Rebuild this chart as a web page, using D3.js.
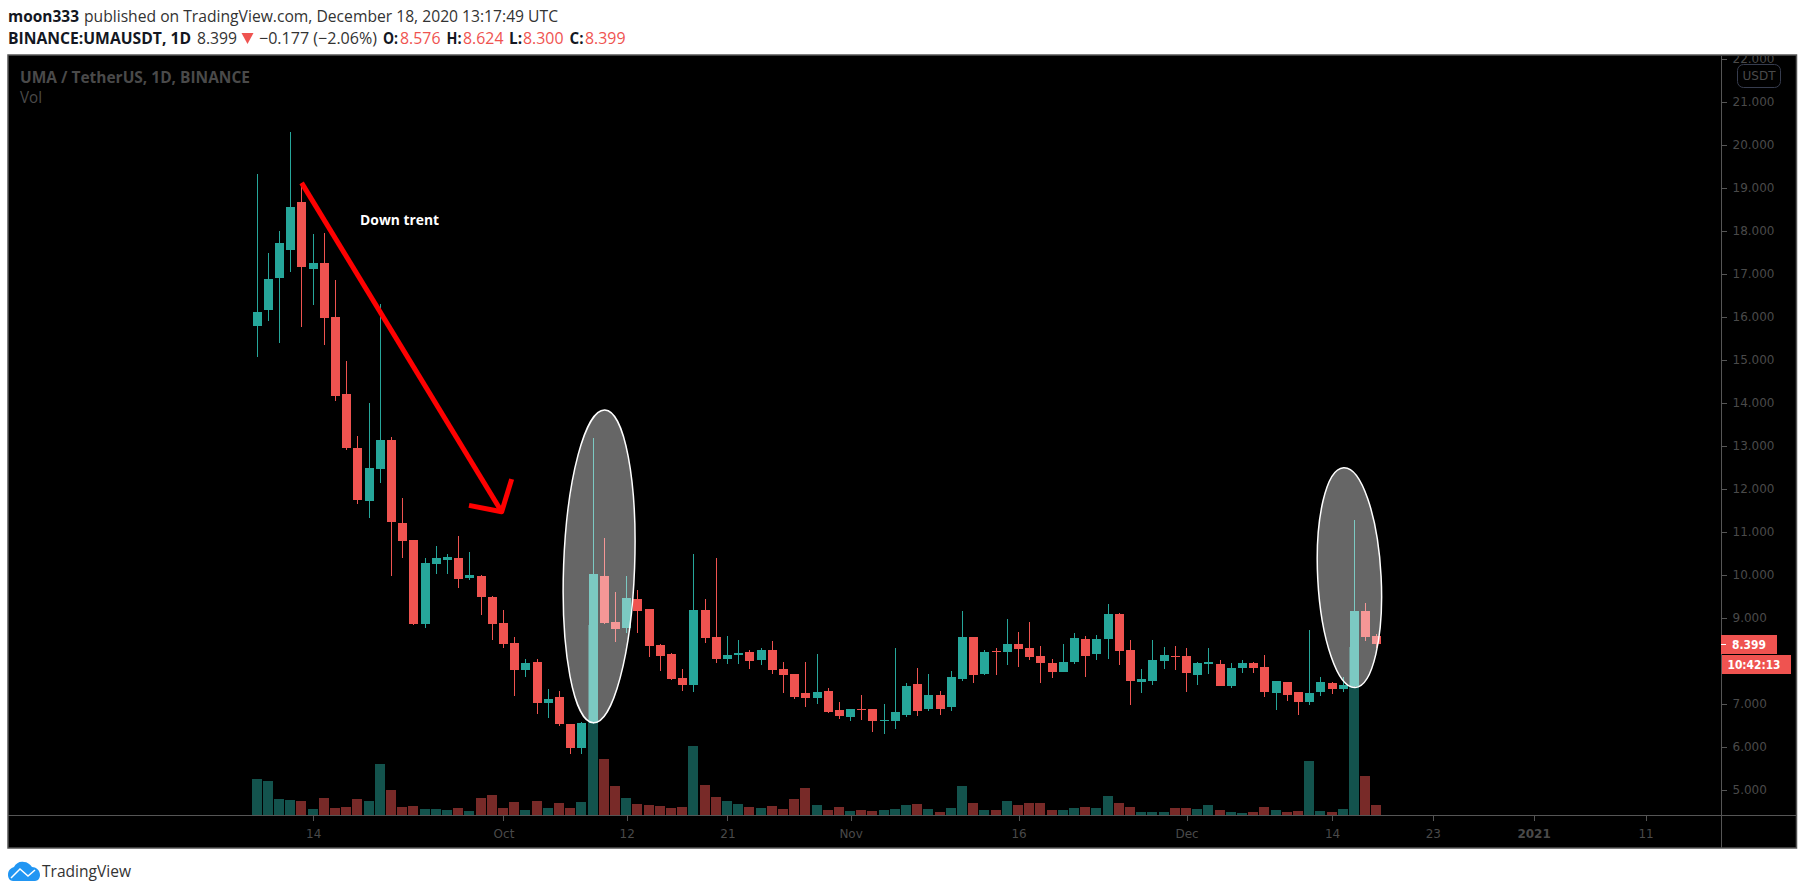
<!DOCTYPE html>
<html>
<head>
<meta charset="UTF-8">
<title>UMAUSDT 1D</title>
<script src="https://d3js.org/d3.v7.min.js"></script>
<style>
html, body { margin: 0; padding: 0; background: #fff; overflow: hidden; }
svg { display: block; }
</style>
</head>

<body>

<script type="text/javascript">

/* Daily candles, Sep 9 to Dec 18 2020 */
var opens = [
	15.79,16.16,16.91,17.56,18.67,17.12,17.26,16.00,14.21,12.95,
	11.72,12.47,13.14,11.21,10.81,8.86,10.26,10.35,10.40,9.93,
	9.98,9.49,8.88,8.42,7.79,7.98,7.02,7.16,6.53,5.98,
	6.56,9.98,8.91,8.77,9.44,9.21,8.37,8.16,7.60,7.44,
	9.19,8.56,8.05,8.14,8.21,8.02,8.26,7.81,7.70,7.26,
	7.14,7.30,6.86,6.70,6.88,6.88,6.60,6.60,6.74,7.47,
	6.88,7.21,6.93,7.58,8.56,7.70,8.23,8.21,8.40,8.30,
	8.12,7.95,7.74,7.98,8.51,8.16,8.51,9.09,8.26,7.51,
	7.53,8.00,8.12,8.12,7.67,7.93,7.93,7.42,7.84,7.95,
	7.86,7.26,7.51,7.28,7.05,7.28,7.49,7.35,7.42,9.16,8.576]
var highs = [
	19.33,17.48,18.00,20.30,19.12,17.93,17.95,16.86,14.98,13.23,
	14.00,16.30,13.21,11.79,10.81,10.40,10.67,10.49,10.91,10.53,
	10.00,9.51,9.19,8.56,8.05,8.05,7.35,7.30,6.53,6.58,
	13.19,10.86,9.60,9.98,9.65,9.21,8.40,8.19,7.81,10.49,
	9.44,10.40,8.58,8.49,8.26,8.30,8.47,7.98,7.70,7.98,
	8.16,7.37,7.05,6.88,7.21,6.88,7.00,8.30,7.49,7.84,
	7.70,7.30,7.77,9.16,8.56,8.26,8.30,8.98,8.67,8.91,
	8.35,8.05,8.40,8.65,8.58,8.60,9.33,9.12,8.49,7.81,
	8.49,8.33,8.35,8.30,7.98,8.30,8.02,7.95,8.02,7.98,
	8.14,7.53,7.51,7.28,8.72,7.63,7.51,7.63,11.28,9.35,8.624]
var lows = [
	15.08,15.91,15.40,17.05,15.77,16.28,15.35,14.05,12.91,11.65,
	11.33,12.14,9.98,10.40,8.84,8.77,10.02,10.02,9.70,9.88,
	9.07,8.49,8.30,7.19,7.63,6.77,6.67,6.49,5.84,5.84,
	6.53,8.86,8.44,8.65,8.65,8.09,7.77,7.56,7.30,7.28,
	8.42,7.95,7.93,7.93,7.81,7.91,7.70,7.26,7.12,6.93,
	7.00,6.79,6.65,6.60,6.63,6.35,6.30,6.42,6.70,6.72,
	6.84,6.74,6.84,7.53,7.49,7.67,7.67,7.91,7.86,8.02,
	7.49,7.60,7.74,7.93,7.63,8.02,8.05,7.91,6.98,7.26,
	7.44,7.81,7.79,7.28,7.44,7.70,7.42,7.37,7.72,7.72,
	7.16,6.86,7.07,6.74,6.98,7.19,7.23,7.28,7.40,8.47,8.300]
var closes = [
	16.12,16.88,17.72,18.56,17.16,17.26,15.98,14.16,12.95,11.74,
	12.49,13.14,11.23,10.79,8.86,10.28,10.40,10.42,9.91,10.00,
	9.49,8.86,8.40,7.79,7.95,7.02,7.12,6.53,5.98,6.56,
	10.02,8.88,8.74,9.47,9.16,8.35,8.12,7.58,7.44,9.19,
	8.53,8.05,8.14,8.19,8.00,8.26,7.79,7.67,7.16,7.14,
	7.28,6.81,6.72,6.88,6.86,6.60,6.63,6.81,7.42,6.84,
	7.21,6.88,7.63,8.56,7.67,8.21,8.21,8.40,8.28,8.09,
	7.95,7.74,7.98,8.53,8.12,8.51,9.09,8.23,7.53,7.58,
	8.02,8.14,8.09,7.72,7.95,7.98,7.42,7.84,7.95,7.84,
	7.28,7.53,7.21,7.05,7.26,7.51,7.35,7.44,9.16,8.56,8.399]
/* Volume has no scale in the picture, so these are relative units */
var volumes = [
	36,34,16,15,14,6,17,7,8,16,
	14,51,25,8,9,6,6,5,7,4,
	17,20,7,13,5,14,7,12,7,13,
	190,56,29,17,11,10,9,7,8,69,
	30,18,14,11,8,7,9,6,16,27,
	10,5,8,4,5,4,5,6,10,11,
	6,3,7,29,12,5,5,14,10,12,
	12,5,5,7,8,7,19,12,8,3,
	3,3,7,7,6,10,5,3,2,3,
	8,5,3,4,54,4,3,6,168,39,10]

/* Axis ticks. X ticks are candle numbers, counted from Sep 9. The 8.000 tick is under the price tags */
var price_ticks = [5,6,7,9,10,11,12,13,14,15,16,17,18,19,20,21,22]
var time_ticks = [5,22,33,42,53,68,83,96,105,114,124]
var time_labels = ['14','Oct','12','21','Nov','16','Dec','14','23','2021','11']

/* Drawings on the chart, in candle number and price */
var arrow_x = [3.97, 21.84]
var arrow_y = [19.12, 11.47]
var arrow_head_x = [18.92, 21.84, 22.73]
var arrow_head_y = [11.62, 11.47, 12.23]
var ellipse_x = [30.54, 97.55]
var ellipse_y = [10.20, 9.94]
var ellipse_top = [13.84, 12.50]
var ellipse_half_width = [3.17, 2.83]
var ellipse_tilt = [2.1, -3]
var note_x = 9.19
var note_y = 18.13
var note_text = 'Down trent'

var last_price = 8.399
var countdown = '10:42:13'

/* Global variables */
var W = 1805
var H = 895
var frame = {left: 8, top: 55, right: 1796.5, bottom: 848}
var axis_x = 1721
var axis_y = 815
var up_color = '#26a69a'
var down_color = '#ef5350'
var line_color = '#555555'
var label_color = '#4a4a4a'
var header_font = '"Open Sans", sans-serif'
var axis_font = '"DejaVu Sans", sans-serif'

var x_scale = d3.scaleLinear()	// Candle number to pixels
		.domain([0, 100])
		.range([257.15, 1376.85])
var y_scale = d3.scaleLinear()	// Price to pixels
		.domain([5, 22])
		.range([790, 59])
var vol_scale = d3.scaleLinear()	// Volume to pixels
		.domain([0, 190])
		.range([axis_y, 625])

var svg = d3.select('body')
	.append('svg')
	.attr('width', W)
	.attr('height', H)

/* Writes one piece of header text squeezed to the width it has in the picture */
function header_text(x, y, width, str, bold, color) {
	svg.append('text')
		.attr('x', x)
		.attr('y', y)
		.attr('textLength', width)
		.attr('lengthAdjust', 'spacingAndGlyphs')
		.attr('font-family', header_font)
		.attr('font-size', '16px')
		.attr('font-weight', bold ? 700 : 400)
		.style('fill', color)
		.text(str)
}

/* Two lines above the chart */
function draw_header() {
	header_text(8, 22, 71, 'moon333', true, '#131722')
	header_text(84, 22, 474, 'published on TradingView.com, December 18, 2020 13:17:49 UTC', false, '#333')
	header_text(8, 44, 183, 'BINANCE:UMAUSDT, 1D', true, '#131722')
	header_text(197, 44, 40, '8.399', false, '#333')
	svg.append('path')
		.attr('d', 'M241.5 33 L253.5 33 L247.5 44 Z')
		.style('fill', down_color)
	header_text(259, 44, 118, '\u22120.177 (\u22122.06%)', false, '#333')
	var parts = [
		[383, 15, 'O:', 400, '8.576'],
		[446.5, 15, 'H:', 463, '8.624'],
		[509, 13, 'L:', 523, '8.300'],
		[569.5, 14, 'C:', 585, '8.399']
	]
	parts.forEach(function(p) {
		header_text(p[0], 44, p[1], p[2], true, '#131722')
		header_text(p[3], 44, 40.5, p[4], false, down_color)
	})
}

/* Black panel with its frame and the clip for everything inside */
function draw_panel() {
	svg.append('rect')
		.attr('x', frame.left)
		.attr('y', frame.top)
		.attr('width', frame.right - frame.left)
		.attr('height', frame.bottom - frame.top)
		.style('fill', '#000')
		.style('stroke', line_color)
		.style('stroke-width', 1.5)
	svg.append('clipPath')
		.attr('id', 'panel_clip')
		.append('rect')
		.attr('x', frame.left)
		.attr('y', frame.top + 1)
		.attr('width', frame.right - frame.left)
		.attr('height', frame.bottom - frame.top - 1)
	svg.append('text')
		.attr('x', 20)
		.attr('y', 82.5)
		.attr('textLength', 230)
		.attr('lengthAdjust', 'spacingAndGlyphs')
		.attr('font-family', header_font)
		.attr('font-size', '16px')
		.attr('font-weight', 700)
		.style('fill', label_color)
		.text('UMA / TetherUS, 1D, BINANCE')
	svg.append('text')
		.attr('x', 20)
		.attr('y', 103)
		.attr('textLength', 22)
		.attr('lengthAdjust', 'spacingAndGlyphs')
		.attr('font-family', header_font)
		.attr('font-size', '16px')
		.style('fill', label_color)
		.text('Vol')
}

/* Both axes come from d3, the domain line is drawn by hand across the panel */
function draw_axes() {
	var right_axis = d3.axisRight(y_scale)
		.tickValues(price_ticks)
		.tickFormat(d3.format('.3f'))
		.tickSize(5)
		.tickPadding(6)
	var bot_axis = d3.axisBottom(x_scale)
		.tickValues(time_ticks)
		.tickFormat(function(d, i) { return time_labels[i] })
		.tickSize(5)
		.tickPadding(9)

	var g = svg.append('g').attr('clip-path', 'url(#panel_clip)')
	var gy = g.append('g')
		.attr('transform', 'translate(' + (axis_x + 0.5) + ',0)')
		.call(right_axis)
	var gx = g.append('g')
		.attr('transform', 'translate(0,' + (axis_y + 0.5) + ')')
		.call(bot_axis)

	;[gy, gx].forEach(function(a) {
		a.select('.domain').remove()
		a.selectAll('line').style('stroke', line_color).attr('shape-rendering', 'crispEdges')
		a.selectAll('text')
			.attr('font-family', axis_font)
			.attr('font-size', '12px')
			.style('fill', label_color)
	})
	gx.selectAll('text').attr('font-weight', function(d, i) {
		return time_labels[i] == '2021' ? 700 : 400 })

	g.append('line')
		.attr('x1', axis_x + 0.5).attr('x2', axis_x + 0.5)
		.attr('y1', frame.top).attr('y2', frame.bottom)
		.style('stroke', line_color)
	g.append('line')
		.attr('x1', frame.left).attr('x2', frame.right)
		.attr('y1', axis_y + 0.5).attr('y2', axis_y + 0.5)
		.style('stroke', line_color)

	/* Currency badge sits over the top tick */
	svg.append('rect')
		.attr('x', 1737.5).attr('y', 64.5)
		.attr('width', 43).attr('height', 23)
		.attr('rx', 6)
		.style('fill', '#000')
		.style('stroke', '#363c4e')
	svg.append('text')
		.attr('x', 1759).attr('y', 80)
		.attr('font-family', axis_font)
		.attr('font-size', '12px')
		.style('text-anchor', 'middle')
		.style('fill', label_color)
		.text('USDT')
}

function candle_x(i) {
	return Math.floor(x_scale(i))
}

function candle_color(i) {
	return closes[i] >= opens[i] ? up_color : down_color
}

/* Volume bars at half strength behind the candles */
function draw_volume() {
	svg.append('g').selectAll('rect')
		.data(volumes)
		.enter()
		.append('rect')
		.attr('x', function(d, i) { return candle_x(i) - 5 })
		.attr('y', function(d) { return Math.round(vol_scale(d)) })
		.attr('width', 10)
		.attr('height', function(d) { return axis_y - Math.round(vol_scale(d)) })
		.style('fill', function(d, i) { return candle_color(i) })
		.style('opacity', 0.5)
}

function draw_candles() {
	var g = svg.append('g')
	g.selectAll('rect.wick')
		.data(highs)
		.enter()
		.append('rect')
		.attr('class', 'wick')
		.attr('x', function(d, i) { return candle_x(i) })
		.attr('y', function(d) { return Math.round(y_scale(d)) })
		.attr('width', 1)
		.attr('height', function(d, i) { return Math.round(y_scale(lows[i])) - Math.round(y_scale(d)) })
		.style('fill', function(d, i) { return candle_color(i) })
	g.selectAll('rect.body')
		.data(opens)
		.enter()
		.append('rect')
		.attr('class', 'body')
		.attr('x', function(d, i) { return candle_x(i) - 4 })
		.attr('y', function(d, i) { return Math.round(y_scale(Math.max(d, closes[i]))) })
		.attr('width', 9)
		.attr('height', function(d, i) {
			var h = Math.round(y_scale(Math.min(d, closes[i]))) - Math.round(y_scale(Math.max(d, closes[i])))
			return Math.max(h, 1) })
		.style('fill', function(d, i) { return candle_color(i) })
}

/* Hand drawn annotations: two ellipses, the red arrow and the note */
function draw_annotations() {
	ellipse_x.forEach(function(cx, i) {
		var px = x_scale(cx)
		var py = y_scale(ellipse_y[i])
		svg.append('ellipse')
			.attr('cx', px)
			.attr('cy', py)
			.attr('rx', x_scale(cx + ellipse_half_width[i]) - px)
			.attr('ry', py - y_scale(ellipse_top[i]))
			.attr('transform', 'rotate(' + ellipse_tilt[i] + ' ' + px + ' ' + py + ')')
			.style('fill', 'rgba(255,255,255,0.4)')
			.style('stroke', '#fff')
			.style('stroke-width', 1.5)
	})

	var line = d3.line()
		.x(function(d) { return x_scale(d[0]) })
		.y(function(d) { return y_scale(d[1]) })
	svg.append('path')
		.attr('d', line(d3.zip(arrow_x, arrow_y)))
		.style('fill', 'none')
		.style('stroke', '#ff0000')
		.style('stroke-width', 5)
	svg.append('path')
		.attr('d', line(d3.zip(arrow_head_x, arrow_head_y)))
		.style('fill', 'none')
		.style('stroke', '#ff0000')
		.style('stroke-width', 5)
		.style('stroke-linejoin', 'round')

	svg.append('text')
		.attr('x', x_scale(note_x))
		.attr('y', y_scale(note_y))
		.attr('textLength', 79)
		.attr('lengthAdjust', 'spacingAndGlyphs')
		.attr('font-family', header_font)
		.attr('font-size', '14px')
		.attr('font-weight', 700)
		.style('fill', '#fff')
		.text(note_text)
}

/* Last price and countdown tags on the price axis */
function draw_price_tags() {
	var py = Math.round(y_scale(last_price))
	svg.append('rect')
		.attr('x', axis_x).attr('y', py - 9)
		.attr('width', 56).attr('height', 19)
		.style('fill', down_color)
	svg.append('rect')
		.attr('x', axis_x).attr('y', py)
		.attr('width', 5).attr('height', 1)
		.style('fill', '#fff')
	svg.append('text')
		.attr('x', axis_x + 11).attr('y', py + 5)
		.attr('font-family', axis_font)
		.attr('font-size', '12px')
		.attr('font-weight', 700)
		.attr('textLength', 34)
		.attr('lengthAdjust', 'spacingAndGlyphs')
		.style('fill', '#fff')
		.text(d3.format('.3f')(last_price))
	svg.append('rect')
		.attr('x', axis_x + 1).attr('y', py + 11)
		.attr('width', 69).attr('height', 19)
		.style('fill', down_color)
	svg.append('text')
		.attr('x', axis_x + 6.5).attr('y', py + 25)
		.attr('font-family', axis_font)
		.attr('font-size', '12px')
		.attr('font-weight', 700)
		.attr('textLength', 53)
		.attr('lengthAdjust', 'spacingAndGlyphs')
		.style('fill', '#fff')
		.text(countdown)
}

/* Cloud logo and name under the chart */
function draw_logo() {
	var g = svg.append('g')
	g.append('path')
		.attr('d', 'M8 875 C8 870 11 868 14 867 C16 863 20 861 24 862 C27 862 30 864 32 867 C36 867 40 870 40 875 C40 878 38 881 35 881 L13 881 C10 881 8 878 8 875 Z')
		.style('fill', '#2196f3')
	g.append('path')
		.attr('d', 'M11 878 L20 869 L28 876 L35 870')
		.style('fill', 'none')
		.style('stroke', '#fff')
		.style('stroke-width', 1.5)
	svg.append('text')
		.attr('x', 42)
		.attr('y', 877)
		.attr('textLength', 89)
		.attr('lengthAdjust', 'spacingAndGlyphs')
		.attr('font-family', header_font)
		.attr('font-size', '16px')
		.style('fill', '#333')
		.text('TradingView')
}

/* Main code */
draw_header()
draw_panel()
draw_axes()
draw_volume()
draw_candles()
draw_annotations()
draw_price_tags()
draw_logo()

</script>

</body>

</html>
